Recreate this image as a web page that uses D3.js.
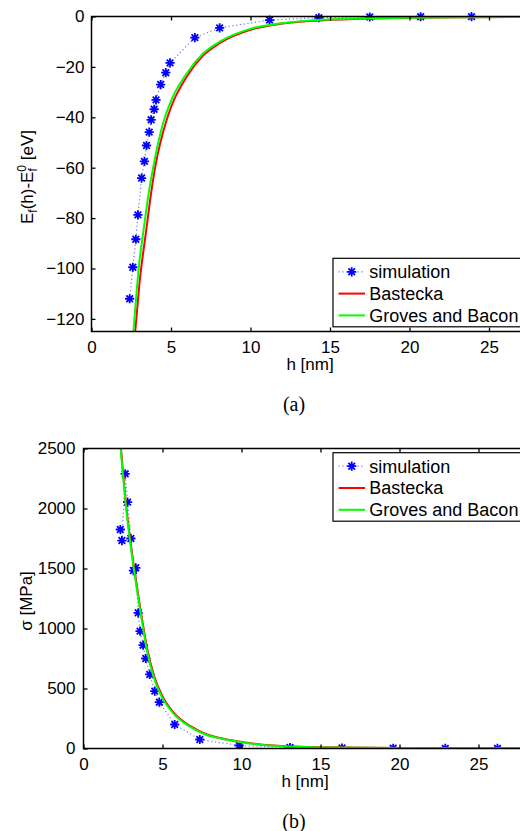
<!DOCTYPE html>
<html lang="en">
<head>
<meta charset="utf-8">
<title>Formation energy and stress vs h</title>
<script src="https://d3js.org/d3.v7.min.js"></script>
<style>
  body { margin: 0; background: #fff; }
  svg text { font-family: 'Liberation Sans', Arial, sans-serif; fill: #000; }
  .axis path, .axis line { stroke: #000; stroke-width: 1.3; }
  .axis text { font-size: 17px; }
  .caption { font-family: 'Liberation Serif', 'Times New Roman', serif !important; font-size: 20px; }
</style>
</head>
<body>
<div id="chart"></div>
<script>
// ---- data ----
// (a) formation energy difference [eV] vs h [nm]
var simH_a = [2.4, 2.6, 2.79, 2.92, 3.15, 3.33, 3.46, 3.63, 3.75, 3.94, 4.06, 4.35, 4.67, 4.94, 6.5, 8.06, 11.2, 14.3, 17.5, 20.7, 23.9];
var simE_a = [-112, -99.5, -88.4, -78.7, -64.1, -57.5, -51.2, -45.9, -41.0, -36.8, -33.1, -27.0, -22.3, -18.4, -8.4, -4.5, -1.4, -0.5, -0.2, -0.1, -0.05];
var basH_a = [2.75, 3.0, 3.48, 3.6, 4.0, 4.73, 5.0, 6.0, 7.0, 8.06, 10.1, 11.8, 14, 17, 20, 24, 30];
var basE_a = [-125, -107, -83, -77, -60, -41, -36, -23.8, -15.6, -10.6, -5.1, -3.0, -1.7, -0.9, -0.5, -0.3, -0.12];
var gbH_a  = [2.64, 3.0, 3.27, 3.6, 4.0, 4.52, 5.0, 6.0, 7.0, 8.06, 10.1, 11.8, 14, 17, 20, 24, 30];
var gbE_a  = [-125, -98, -85, -70, -56, -42, -33.5, -22.5, -14.8, -10.0, -4.7, -2.8, -1.5, -0.8, -0.45, -0.25, -0.1];

// (b) stress [MPa] vs h [nm]
var simH_b = [2.33, 2.43, 2.64, 2.79, 3.0, 3.16, 3.31, 3.46, 3.58, 3.77, 3.94, 4.19, 4.51, 4.8, 5.77, 7.36, 9.85, 13.07, 16.36, 19.6, 22.9, 26.2];
var simS_b = [1825, 1733, 2289, 2053, 1750, 1483, 1506, 1131, 978, 861, 750, 617, 478, 386, 200, 75, 25, 8, 4, 2, 1, 1];
var basH_b = [2.37, 2.72, 3.21, 3.45, 3.73, 4.04, 4.47, 4.99, 5.72, 6.77, 7.82, 8.87, 9.81, 12.3, 15, 20, 30];
var basS_b = [2500, 2000, 1500, 1290, 1060, 825, 603, 436, 297, 186, 117, 81, 58, 22, 10, 4, 1];
var gbH_b  = [2.35, 2.70, 3.18, 3.42, 3.70, 4.00, 4.42, 4.93, 5.65, 6.68, 7.72, 8.77, 9.7, 12.3, 15, 20, 30];
var gbS_b  = [2500, 2000, 1500, 1290, 1060, 825, 603, 436, 297, 186, 117, 81, 58, 20, 9, 3.5, 1];

var xTicks = [0, 5, 10, 15, 20, 25];
var yTicks_a = [-120, -100, -80, -60, -40, -20, 0];
var yTicks_b = [0, 500, 1000, 1500, 2000, 2500];
var legendNames = ["simulation", "Bastecka", "Groves and Bacon"];

var width = 520, height = 831;

var svg = d3.select("#chart").append("svg")
  .attr("width", width)
  .attr("height", height);

function zip(xs, ys) { return xs.map(function(v, i) { return [v, ys[i]]; }); }

// MATLAB style '*' marker
function starPath(r) {
  var d = r * 0.72;
  return "M" + (-r) + ",0L" + r + ",0M0," + (-r) + "L0," + r +
         "M" + (-d) + "," + (-d) + "L" + d + "," + d +
         "M" + (-d) + "," + d + "L" + d + "," + (-d);
}

function panel(p) {
  var x = d3.scaleLinear().domain([0, 30]).range([p.left, p.left + 30 * p.pxPerNm]);
  var y = d3.scaleLinear().domain(p.yDomain).range([p.bottom, p.top]);
  var g = svg.append("g");

  var clipId = "clip" + p.id;
  g.append("clipPath").attr("id", clipId)
    .append("rect")
      .attr("x", p.left).attr("y", p.top - 6)
      .attr("width", width - p.left).attr("height", p.bottom - p.top + 6);

  var line = d3.line()
    .x(function(d) { return x(d[0]); })
    .y(function(d) { return y(d[1]); });
  var smooth = d3.line()
    .x(function(d) { return x(d[0]); })
    .y(function(d) { return y(d[1]); })
    .curve(d3.curveMonotoneX);

  var plot = g.append("g").attr("clip-path", "url(#" + clipId + ")");
  var sim = zip(p.simH, p.simY);

  // simulation: dotted line + stars
  plot.append("path").datum(sim)
    .attr("d", line)
    .attr("fill", "none")
    .attr("stroke", "#0000ff")
    .attr("stroke-opacity", 0.55)
    .attr("stroke-width", 1.2)
    .attr("stroke-dasharray", "1.2,2.6");
  plot.selectAll(".star").data(sim).enter().append("path")
    .attr("class", "star")
    .attr("d", starPath(4.6))
    .attr("transform", function(d) { return "translate(" + x(d[0]) + "," + y(d[1]) + ")"; })
    .attr("stroke", "#0000ff")
    .attr("stroke-width", 1.8)
    .attr("fill", "none");

  plot.append("path").datum(zip(p.basH, p.basY))
    .attr("d", smooth)
    .attr("fill", "none")
    .attr("stroke", "#ff0000")
    .attr("stroke-width", 2);
  plot.append("path").datum(zip(p.gbH, p.gbY))
    .attr("d", smooth)
    .attr("fill", "none")
    .attr("stroke", "#00ff00")
    .attr("stroke-width", 2);

  // axes (ticks point inward, like MATLAB)
  var fmt = d3.format("d");
  g.append("g").attr("class", "axis")
    .attr("transform", "translate(0," + p.bottom + ")")
    .call(d3.axisBottom(x).tickValues(xTicks).tickSize(-4).tickSizeOuter(0).tickPadding(9).tickFormat(fmt))
    .call(function(a) { a.select(".domain").remove(); });
  g.append("g").attr("class", "axis")
    .attr("transform", "translate(0," + p.top + ")")
    .call(d3.axisTop(x).tickValues(xTicks).tickSize(-4).tickSizeOuter(0).tickFormat(""))
    .call(function(a) { a.select(".domain").remove(); });
  g.append("g").attr("class", "axis")
    .attr("transform", "translate(" + p.left + ",0)")
    .call(d3.axisLeft(y).tickValues(p.yTicks).tickSize(-4).tickSizeOuter(0).tickPadding(p.yPad).tickFormat(fmt))
    .call(function(a) { a.select(".domain").remove(); });

  g.append("rect")
    .attr("x", p.left).attr("y", p.top)
    .attr("width", 30 * p.pxPerNm).attr("height", p.bottom - p.top)
    .attr("fill", "none").attr("stroke", "#000").attr("stroke-width", 1.5);

  // legend
  var lg = g.append("g").attr("transform", "translate(333," + p.legendTop + ")");
  lg.append("rect")
    .attr("width", 250).attr("height", 68.5)
    .attr("fill", "#fff").attr("stroke", "#000").attr("stroke-width", 1.2);
  legendNames.forEach(function(name, i) {
    var ry = 13.5 + i * 21.8;
    var ln = lg.append("line")
      .attr("x1", 5.5).attr("x2", 32).attr("y1", ry).attr("y2", ry)
      .attr("stroke-width", i === 0 ? 1.2 : 2);
    if (i === 0) {
      ln.attr("stroke", "#0000ff").attr("stroke-opacity", 0.55).attr("stroke-dasharray", "1.2,2.6");
      lg.append("path").attr("d", starPath(4.6))
        .attr("transform", "translate(18.7," + ry + ")")
        .attr("stroke", "#0000ff").attr("stroke-width", 1.8).attr("fill", "none");
    } else {
      ln.attr("stroke", i === 1 ? "#ff0000" : "#00ff00");
    }
    lg.append("text")
      .attr("x", 36.3).attr("y", ry + 6.5)
      .style("font-size", "18px")
      .text(name);
  });

  // x label and caption
  g.append("text")
    .attr("x", p.xLabelX).attr("y", p.bottom + 38.5)
    .attr("text-anchor", "middle")
    .style("font-size", "17px")
    .text("h [nm]");
  g.append("text")
    .attr("class", "caption")
    .attr("x", 294).attr("y", p.bottom + 79)
    .attr("text-anchor", "middle")
    .text(p.caption);

  return y;
}

panel({
  id: "a", left: 91.5, pxPerNm: 15.9, top: 16.5, bottom: 331.5,
  yDomain: [-125, 0], yTicks: yTicks_a, yPad: 7,
  simH: simH_a, simY: simE_a, basH: basH_a, basY: basE_a, gbH: gbH_a, gbY: gbE_a,
  legendTop: 258.3, xLabelX: 310, caption: "(a)"
});

panel({
  id: "b", left: 83.5, pxPerNm: 15.8, top: 448.5, bottom: 748.5,
  yDomain: [0, 2500], yTicks: yTicks_b, yPad: 8,
  simH: simH_b, simY: simS_b, basH: basH_b, basY: basS_b, gbH: gbH_b, gbY: gbS_b,
  legendTop: 452.7, xLabelX: 305, caption: "(b)"
});

// y labels
var yl = svg.append("text")
  .attr("transform", "translate(33,177) rotate(-90)")
  .attr("text-anchor", "middle")
  .style("font-size", "17px");
yl.append("tspan").text("E");
yl.append("tspan").attr("dy", 4).style("font-size", "12px").text("f");
yl.append("tspan").attr("dy", -4).text("(h)-E");
yl.append("tspan").attr("dy", 4).style("font-size", "12px").text("f");
yl.append("tspan").attr("dx", -3.4).attr("dy", -11).style("font-size", "12px").text("0");
yl.append("tspan").attr("dy", 7).text(" [eV]");

svg.append("text")
  .attr("transform", "translate(32,601) rotate(-90)")
  .attr("text-anchor", "middle")
  .style("font-size", "17px")
  .text("σ [MPa]");
</script>
</body>
</html>
